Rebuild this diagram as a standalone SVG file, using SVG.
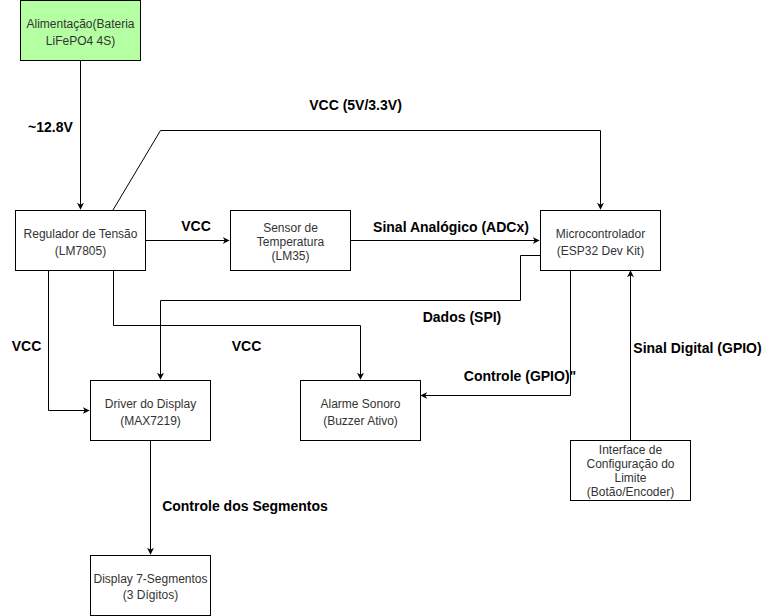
<svg xmlns="http://www.w3.org/2000/svg" width="770" height="616" viewBox="0 0 770 616">
<style>
.box{fill:#fff;stroke:#000;stroke-width:1}
.nt{font-family:"Liberation Sans",Arial,sans-serif;font-size:12px;fill:#333;text-anchor:middle}
.lb{font-family:"Liberation Sans",Arial,sans-serif;font-size:14px;font-weight:bold;fill:#000;text-anchor:middle}
.c{fill:none;stroke:#000;stroke-width:1}
</style>
<defs>
<marker id="ar" viewBox="0 0 10 10" refX="9" refY="5" markerWidth="7" markerHeight="7" markerUnits="userSpaceOnUse" orient="auto">
<path d="M0,0 L10,5 L0,10 L3,5 Z" fill="#000"/>
</marker>
</defs>
<rect width="770" height="616" fill="#fff"/>
<g id="connectors">
<path class="c" d="M80.5,60 V209" marker-end="url(#ar)"/>
<path class="c" d="M113,210 L160.5,130.5 H600.5 V209" marker-end="url(#ar)"/>
<path class="c" d="M145,240.5 H229" marker-end="url(#ar)"/>
<path class="c" d="M350,240.5 H539" marker-end="url(#ar)"/>
<path class="c" d="M540,255.5 H520.5 V300.5 H160.5 V379" marker-end="url(#ar)"/>
<path class="c" d="M113.5,270 V325.5 H360.5 V379" marker-end="url(#ar)"/>
<path class="c" d="M48.5,270 V410.5 H89" marker-end="url(#ar)"/>
<path class="c" d="M570.5,270 V395.5 H421" marker-end="url(#ar)"/>
<path class="c" d="M630.5,440 V271" marker-end="url(#ar)"/>
<path class="c" d="M150.5,440 V554" marker-end="url(#ar)"/>
</g>
<g id="labels">
<text class="lb" x="50.5" y="131.5">~12.8V</text>
<text class="lb" x="355.5" y="110">VCC (5V/3.3V)</text>
<text class="lb" x="196" y="231">VCC</text>
<text class="lb" x="451" y="231.5">Sinal Analógico (ADCx)</text>
<text class="lb" x="462" y="321.5">Dados (SPI)</text>
<text class="lb" x="26.5" y="350.5">VCC</text>
<text class="lb" x="246.5" y="350.5">VCC</text>
<text class="lb" x="520" y="380.5">Controle (GPIO)"</text>
<text class="lb" x="697.5" y="353">Sinal Digital (GPIO)</text>
<text class="lb" x="245" y="511">Controle dos Segmentos</text>
</g>
<g id="alimentacao">
<rect class="box" x="20.5" y="0.5" width="120" height="60" style="fill:#b3ffa1"/>
<text class="nt" x="80.5" y="28">Alimentação(Bateria</text>
<text class="nt" x="80.5" y="44.5">LiFePO4 4S)</text>
</g>
<g id="regulador">
<rect class="box" x="15.5" y="210.5" width="130" height="60"/>
<text class="nt" x="80.5" y="238">Regulador de Tensão</text>
<text class="nt" x="80.5" y="255">(LM7805)</text>
</g>
<g id="sensor">
<rect class="box" x="230.5" y="210.5" width="120" height="60"/>
<text class="nt" x="290.5" y="232">Sensor de</text>
<text class="nt" x="290.5" y="246">Temperatura</text>
<text class="nt" x="290.5" y="260">(LM35)</text>
</g>
<g id="micro">
<rect class="box" x="540.5" y="210.5" width="120" height="60"/>
<text class="nt" x="600.5" y="238">Microcontrolador</text>
<text class="nt" x="600.5" y="255">(ESP32 Dev Kit)</text>
</g>
<g id="driver">
<rect class="box" x="90.5" y="380.5" width="120" height="60"/>
<text class="nt" x="150.5" y="408">Driver do Display</text>
<text class="nt" x="150.5" y="424.5">(MAX7219)</text>
</g>
<g id="alarme">
<rect class="box" x="300.5" y="380.5" width="120" height="60"/>
<text class="nt" x="360.5" y="408">Alarme Sonoro</text>
<text class="nt" x="360.5" y="424.5">(Buzzer Ativo)</text>
</g>
<g id="interface">
<rect class="box" x="570.5" y="440.5" width="120" height="60"/>
<text class="nt" x="630.5" y="454">Interface de</text>
<text class="nt" x="630.5" y="468">Configuração do</text>
<text class="nt" x="630.5" y="482">Limite</text>
<text class="nt" x="630.5" y="496">(Botão/Encoder)</text>
</g>
<g id="display">
<rect class="box" x="90.5" y="555.5" width="120" height="60"/>
<text class="nt" x="150.5" y="583">Display 7-Segmentos</text>
<text class="nt" x="150.5" y="598.5">(3 Dígitos)</text>
</g>
</svg>
